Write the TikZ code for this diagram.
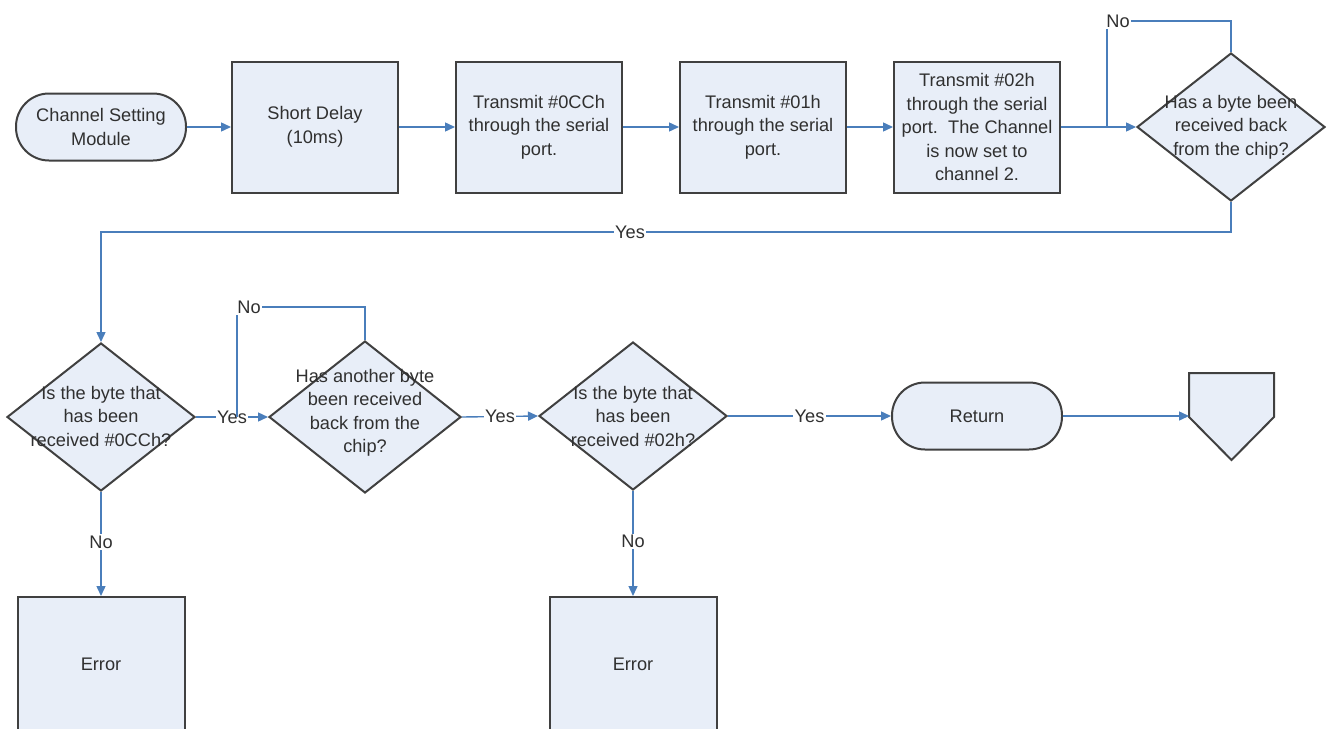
\documentclass[tikz,border=0pt]{standalone}
\usepackage{fontspec}
\setmainfont{Liberation Sans}
\usetikzlibrary{shapes.geometric,arrows.meta}
\definecolor{fillc}{HTML}{E8EEF8}
\definecolor{linec}{HTML}{404040}
\definecolor{connc}{HTML}{4A7EBB}
\definecolor{txtc}{HTML}{303030}
\begin{document}
\begin{tikzpicture}[x=1pt,y=-1pt,
  every node/.style={font=\fontsize{18.2}{23.5}\selectfont, text=txtc},
  proc/.style={draw=linec, line width=2pt, fill=fillc, minimum width=166pt, minimum height=131pt, align=center, inner sep=0pt},
  term/.style={draw=linec, line width=2pt, fill=fillc, rectangle, rounded corners=33pt, minimum width=170pt, minimum height=67pt, align=center, inner sep=0pt},
  decision/.style={diamond, draw=linec, line width=2pt, fill=fillc, minimum width=188pt, minimum height=148pt, inner sep=0pt},
  dtext/.style={align=center, inner sep=0pt},
  conn/.style={draw=connc, line width=1.4pt, -{Triangle[length=10pt,width=9pt]}},
  connl/.style={draw=connc, line width=1.4pt},
  lab/.style={fill=white, inner sep=1.5pt}]
\useasboundingbox (0,0) rectangle (1332,728);
\fill[white] (0,0) rectangle (1332,728);
\clip (0,0) rectangle (1332,728);

% top row
\node[term] (start) at (101,127) {Channel Setting\\Module};
\node[proc] (delay) at (315,127) {Short Delay\\(10ms)};
\node[proc] (t1) at (539,127) {Transmit \#0CCh\\through the serial\\port.};
\node[proc] (t2) at (763,127) {Transmit \#01h\\through the serial\\port.};
\node[proc] (t3) at (977,127) {Transmit \#02h\\through the serial\\port.\ \ The Channel\\is now set to\\channel 2.};
\node[decision] (d1) at (1231,127) {};
\node[dtext] (d1t) at (1231,127) {Has a byte been\\received back\\from the chip?};

% second row
\node[decision] (d2) at (101,417) {};
\node[dtext] (d2t) at (101,416) {Is the byte that\\has been\\received \#0CCh?};
\node[decision, minimum width=192pt, minimum height=152pt] (d3) at (365,417) {};
\node[dtext] (d3t) at (365,413) {Has another byte\\been received\\back from the\\chip?};
\node[decision] (d4) at (633,416) {};
\node[dtext] (d4t) at (633,416) {Is the byte that\\has been\\received \#02h?};
\node[term] (ret) at (977,416) {Return};

% off-page connector
\coordinate (off) at (1189,416);
\draw[draw=linec, line width=2pt, fill=fillc, line join=miter]
  (1189,373) -- (1274,373) -- (1274,417) -- (1231.5,460) -- (1189,417) -- cycle;

% error boxes
\node[proc, minimum width=167pt, minimum height=135pt] (e1) at (101,664.5) {Error};
\node[proc, minimum width=167pt, minimum height=135pt] (e2) at (633,664.5) {Error};

% connectors top row
\draw[conn] (start.east) -- (delay.west);
\draw[conn] (delay.east) -- (t1.west);
\draw[conn] (t1.east) -- (t2.west);
\draw[conn] (t2.east) -- (t3.west);
\draw[conn] (t3.east) -- (d1.west);
\coordinate (n1a) at (1231,21);
\coordinate (n1b) at (1107,21);
\coordinate (n1c) at (1107,127);
\draw[connl] (d1.north) -- (n1a) -- (n1b) -- (n1c);
\node[lab] (no1) at (1118,21) {No};

% yes from d1 to d2
\coordinate (y1a) at (1231,232);
\coordinate (y1b) at (101,232);
\draw[conn] (d1.south) -- (y1a) -- (y1b) -- (d2.north);
\node[lab] (yes1) at (630,232) {Yes};

% second row
\draw[conn] (d2.east) -- node[lab] (yes2) {Yes} (d3.west);
\coordinate (n3a) at (365,307);
\coordinate (n3b) at (237,307);
\coordinate (n3c) at (237,417);
\draw[connl] (d3.north) -- (n3a) -- (n3b) -- (n3c);
\node[lab] (no3) at (249,307) {No};
\draw[conn] (d3.east) -- node[lab] (yes3) {Yes} (d4.west);
\draw[conn] (d4.east) -- node[lab] (yes4) {Yes} (ret.west);
\draw[conn] (ret.east) -- (off);

% no to errors
\draw[conn] (d2.south) -- node[lab, pos=0.48] (no2) {No} (e1.north);
\draw[conn] (d4.south) -- node[lab, pos=0.48] (no4) {No} (e2.north);
\end{tikzpicture}
\end{document}
